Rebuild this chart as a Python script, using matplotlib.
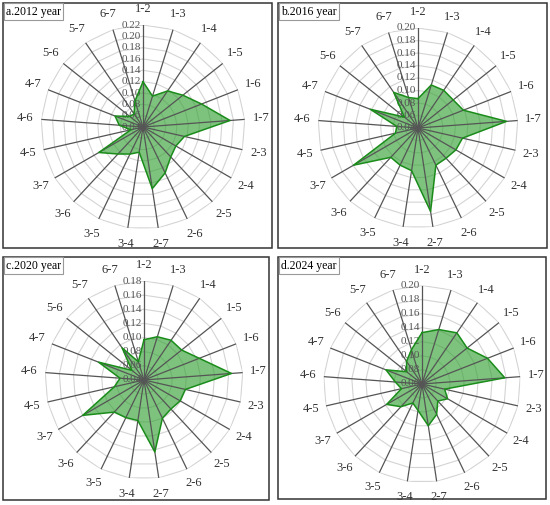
import numpy as np
import matplotlib
matplotlib.use('Agg')
import matplotlib.pyplot as plt
from matplotlib.patches import Rectangle

# categories, clockwise from the top
pairs = ['1-2', '1-3', '1-4', '1-5', '1-6', '1-7', '2-3', '2-4', '2-5', '2-6', '2-7',
         '3-4', '3-5', '3-6', '3-7', '4-5', '4-6', '4-7', '5-6', '5-7', '6-7']

vals_2012 = [0.120, 0.097, 0.117, 0.130, 0.151, 0.194, 0.115, 0.107, 0.112, 0.130, 0.150,
             0.085, 0.093, 0.105, 0.130, 0.062, 0.082, 0.093, 0.070, 0.068, 0.088]
vals_2016 = [0.087, 0.112, 0.113, 0.112, 0.118, 0.182, 0.113, 0.110, 0.106, 0.106, 0.175,
             0.109, 0.106, 0.104, 0.159, 0.077, 0.074, 0.122, 0.068, 0.109, 0.091]
vals_2020 = [0.097, 0.104, 0.108, 0.108, 0.124, 0.164, 0.100, 0.099, 0.096, 0.100, 0.143,
             0.098, 0.099, 0.102, 0.140, 0.083, 0.074, 0.109, 0.062, 0.095, 0.067]
vals_2024 = [0.133, 0.141, 0.148, 0.142, 0.160, 0.178, 0.093, 0.102, 0.093, 0.108, 0.120,
             0.098, 0.090, 0.104, 0.118, 0.090, 0.098, 0.115, 0.088, 0.099, 0.111]

titles = ['a.2012 year', 'b.2016 year', 'c.2020 year', 'd.2024 year']
series = [vals_2012, vals_2016, vals_2020, vals_2024]
r_ranges = [(0.04, 0.22), (0.04, 0.20), (0.04, 0.18), (0.06, 0.20)]

# layout in pixels: panel box (x0, y0, x1, y1), radar centre and radius
W, H = 550, 505
boxes = [(3, 3, 272, 248), (278, 3, 547, 248), (3, 257, 269, 500), (278, 257, 546, 499)]
centres = [(143, 127, 102), (418, 128, 100), (144, 380, 99), (422, 384, 98.5)]

plt.rcParams['font.family'] = ['Liberation Serif', 'DejaVu Serif']

fig = plt.figure(figsize=(W / 100, H / 100), dpi=100)

n = len(pairs)
theta = np.arange(n) * 2 * np.pi / n
theta_c = np.append(theta, theta[0])

for title, vals, (rmin, rmax), box, (cx, cy, R) in zip(titles, series, r_ranges, boxes, centres):
    x0, y0, x1, y1 = box
    fig.add_artist(Rectangle((x0 / W, 1 - y1 / H), (x1 - x0) / W, (y1 - y0) / H,
                             transform=fig.transFigure, fill=False, ec='#333333', lw=1.1))
    fig.text((x0 + 3) / W, 1 - (y0 + 8.5) / H, title, fontsize=8.5, ha='left', va='center',
             bbox=dict(boxstyle='square,pad=0.2', fc='white', ec='#999999', lw=0.8))

    ax = fig.add_axes([(cx - R) / W, 1 - (cy + R) / H, 2 * R / W, 2 * R / H], projection='polar')
    ax.set_theta_zero_location('N')
    ax.set_theta_direction(-1)
    ax.set_ylim(rmin, rmax)
    ax.grid(False)
    ax.set_xticks([])
    ax.set_yticks([])
    ax.spines['polar'].set_visible(False)
    ax.patch.set_alpha(0)

    levels = np.round(np.arange(rmin, rmax + 1e-9, 0.02), 2)
    for lv in levels[1:]:
        ax.plot(theta_c, [lv] * (n + 1), color='#d4d4d4', lw=0.8, zorder=1)
    for t in theta:
        ax.plot([t, t], [rmin, rmax], color='#555555', lw=0.9, zorder=3)

    v = np.clip(np.array(vals + vals[:1]), rmin, rmax)
    ax.fill(theta_c, v, color='#2e9e2e', alpha=0.62, lw=0, zorder=2)
    ax.plot(theta_c, v, color='#1a8c1a', lw=1.1, zorder=4)

    for lv in levels:
        ax.annotate('%.2f' % lv, xy=(0, lv), xytext=(-1.5, 0), textcoords='offset points',
                    ha='right', va='center', fontsize=8, color='#555555', zorder=2)

    for t, lab in zip(theta, pairs):
        ax.text(t, rmax + 0.16 * (rmax - rmin), lab, ha='center', va='center',
                fontsize=9, color='#333333')

fig.savefig('out.png', dpi=100)
